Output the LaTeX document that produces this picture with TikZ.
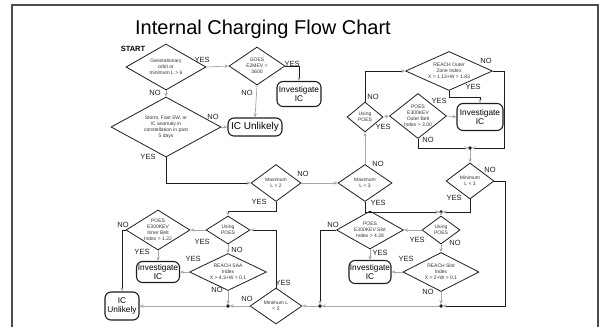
\documentclass[tikz,border=0pt]{standalone}
\usepackage{fontspec}
\setmainfont{Liberation Sans}
\usepackage{tikz}
\usetikzlibrary{arrows.meta,shapes.geometric}
\definecolor{ink}{HTML}{1E1E1E}
\definecolor{lnk}{HTML}{A8A8A8}
\definecolor{txt}{HTML}{333333}
\tikzset{
  >={Stealth[length=4pt,width=3.4pt]},
  dec/.style n args={3}{diamond,draw=ink,line width=0.8pt,fill=white,inner sep=0pt,align=center,
    minimum width=#1,minimum height=#2,aspect=#3,text=txt,font=\fontsize{5}{5.9}\selectfont},
  ibox/.style={draw=ink,line width=1.1pt,rounded corners=6pt,fill=white,align=center,inner sep=0pt,
    font=\fontsize{8.3}{9.2}\selectfont},
  yn/.style={font=\fontsize{7.5}{8}\selectfont,inner sep=0pt,text=ink},
  jn/.style={circle,fill=ink,draw=ink,inner sep=0pt,minimum size=3pt},
  garr/.style={->,draw=lnk,line width=0.7pt},
  barr/.style={-{Stealth[length=4pt,width=3.4pt,color=lnk]},draw=ink,line width=0.8pt},
  frame/.style={draw=ink!80,line width=1.2pt},
}
\begin{document}
\begin{tikzpicture}[x=1pt,y=-1pt]
\useasboundingbox (0,0) rectangle (601,327);
\coordinate (fa) at (12,327);
\coordinate (fb) at (12,5);
\coordinate (fc) at (598,5);
\coordinate (fd) at (598,327);
\draw[frame] (fa) -- (fb) -- (fc) -- (fd);
\node[anchor=base,font=\fontsize{20}{22}\selectfont] (title) at (263,34.5) {Internal Charging Flow Chart};
\node[font=\bfseries\fontsize{7.5}{8}\selectfont,inner sep=0pt] (start) at (133,49) {START};
% first branch
\node[dec={80}{46}{1.74}] (geo) at (166,67) {Geostationary\\orbit or\\minimum L > 6};
\node[dec={56}{38}{1.47}] (goes) at (257,66) {GOES\\E2MEV >\\3600};
\node[ibox,minimum width=44,minimum height=25] (inv1) at (299,94) {Investigate\\IC};
\node[ibox,minimum width=54,minimum height=18,font=\fontsize{10}{11}\selectfont] (unl1) at (255,127) {IC Unlikely};
\node[dec={110}{60}{1.83}] (storm) at (166,127) {Storm, Fast SW, or\\IC anomaly in\\constellation in past\\5 days};
\node[dec={50}{37}{1.35}] (maxtwo) at (276,183) {Maximum\\L < 2};
\node[dec={54}{37}{1.46}] (maxthree) at (365,183) {Maximum\\L < 3};
% upper right
\node[dec={36}{30}{1.2}] (useup) at (365,117) {Using\\POES};
\node[dec={87}{39}{2.23}] (reachout) at (449,71) {REACH Outer\\Zone Index\\X > 1.13+W > 1.83};
\node[dec={57}{45}{1.27}] (poesout) at (418,116) {POES\\E300KEV\\Outer Belt\\Index > 3.00};
\node[ibox,minimum width=46,minimum height=27] (inv2) at (480,117) {Investigate\\IC};
\node[jn] (jA) at (470,148) {};
\node[dec={48}{36}{1.33}] (minthree) at (470,181) {Minimum\\L < 3};
% lower right
\node[jn] (jB) at (441,212) {};
\node[dec={38}{28}{1.36}] (usedr) at (441,230) {Using\\POES};
\node[dec={67}{38}{1.76}] (poesslot) at (370,230) {POES\\E300KEV Slot\\Index > 4.28};
\node[ibox,minimum width=42,minimum height=23] (inv3) at (370,272) {Investigate\\IC};
\node[dec={76}{39}{1.95}] (reachslot) at (441,272) {REACH Slot\\Index\\X > 2+W > 0.1};
\node[jn] (jC) at (441,306) {};
\node[jn] (jD) at (320,306) {};
% lower left
\node[dec={52}{36}{1.44}] (mintwo) at (276,306) {Minimum L\\< 2};
\node[jn] (jE) at (228,306) {};
\node[dec={44}{28}{1.57}] (usedl) at (228,230) {Using\\POES};
\node[dec={64}{40}{1.6}] (poesin) at (158,230) {POES\\E300KEV\\Inner Belt\\Index > 1.22};
\node[ibox,minimum width=43,minimum height=21] (inv4) at (158,272) {Investigate\\IC};
\node[dec={77}{37}{2.08}] (reachsaa) at (228,272) {REACH SAA\\Index\\X > 4.3+W > 0.1};
\node[ibox,minimum width=34,minimum height=28] (unl2) at (122,306) {IC\\Unlikely};
% straight links
\foreach \u/\v in {geo.east/goes.west,geo.south/storm.north,goes.south/unl1.north,storm.east/unl1.west,
  maxtwo.east/maxthree.west,maxthree.north/useup.south,useup.east/poesout.west,poesout.east/inv2.west,
  jA/minthree.north,jB/usedr.north,usedr.west/poesslot.east,usedr.south/reachslot.north,
  poesslot.south/inv3.north,reachslot.west/inv3.east,reachslot.south/jC,jC/jD,jD/mintwo.east,
  mintwo.west/jE,reachsaa.south/jE,jE/unl2.east,usedl.south/reachsaa.north,usedl.west/poesin.east,
  poesin.south/inv4.north,reachsaa.west/inv4.east}
  \draw[garr] (\u) -- (\v);
% elbow links
\draw[barr] (goes.east) -| (inv1.north);
\draw[barr] (storm.south) |- (maxtwo.west);
\draw[barr] (useup.north) |- (reachout.west);
\draw[barr] (reachout.east) -- ++(11,0) |- (jA);
\draw[barr] (reachout.south) -- ++(0,6) -| (inv2.north);
\draw[barr] (poesout.south) |- (jA);
\draw[barr] (minthree.east) -- ++(11,0) |- (jC);
\draw[barr] (minthree.south) |- (jB);
\draw[barr] (maxthree.south) |- (jB);
\draw[barr] (maxtwo.south) -- ++(0,9) -| (usedl.north);
\draw[barr] (mintwo.north) |- (usedl.east);
\draw[barr] (poesslot.west) -| (jD);
\draw[barr] (poesin.west) -| (unl2.north);
% yes / no
\foreach \n/\t/\x/\y in {geoY/YES/202/60,geoN/NO/155/93,goesY/YES/292/64,goesN/NO/247/93,
  stormN/NO/213/117,stormY/YES/148/157,mxtN/NO/303/174,mxtY/YES/259/202,mxhN/NO/378/164,mxhY/YES/378/203,
  upN/NO/373/97,upY/YES/383/127,roN/NO/486/61,roY/YES/473/87,poY/YES/439/101,poN/NO/428/140,
  mnhN/NO/490/170,mnhY/YES/454/198,psN/NO/333/225,drY/YES/417/240,drN/NO/455/243,psY/YES/380/253,
  rsY/YES/406/259,rsN/NO/428/292,dlY/YES/202/242,dlN/NO/237/250,piN/NO/123/225,piY/YES/142/252,
  saY/YES/193/259,saN/NO/217/290,mtY/YES/283/283,mtN/NO/247/299}
  \node[yn] (\n) at (\x,\y) {\t};
\end{tikzpicture}
\end{document}
